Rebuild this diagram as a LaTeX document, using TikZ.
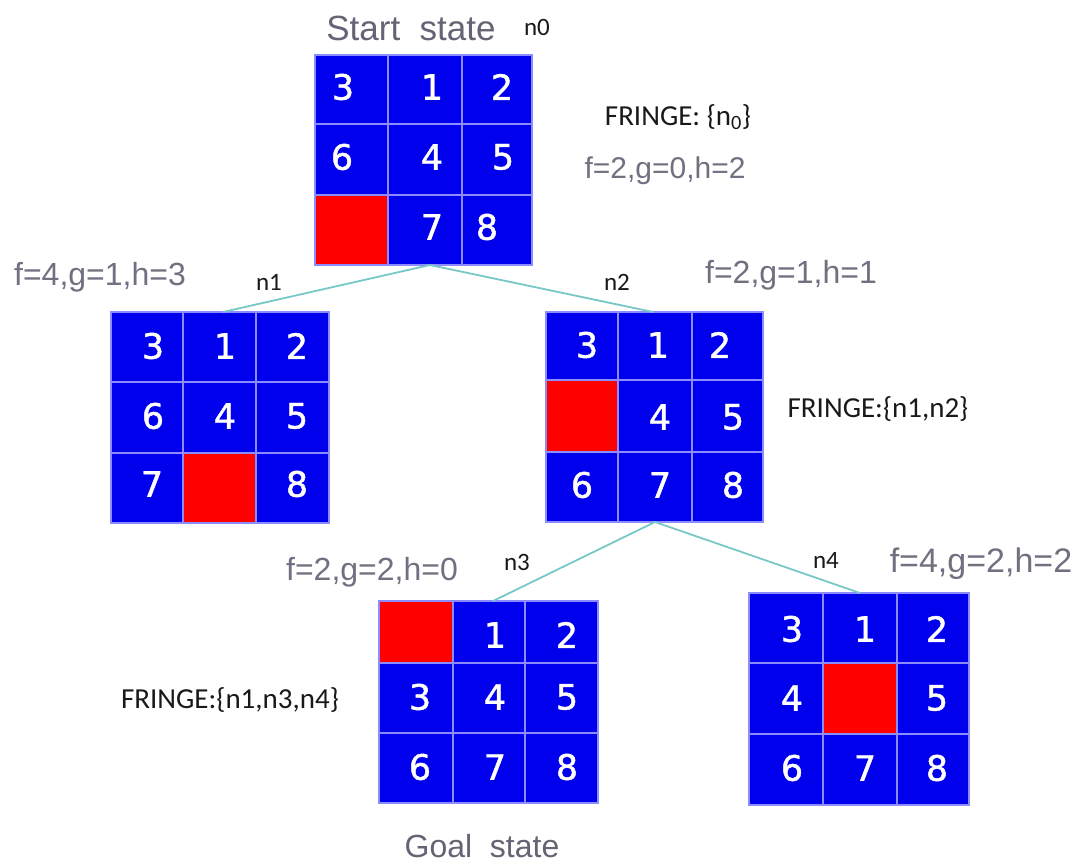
\documentclass[tikz,border=0pt]{standalone}
\usepackage{fontspec}
\setmainfont{Liberation Sans}
\newfontfamily\calfont{Carlito}
\newfontfamily\digfont[FakeBold=1.2]{DejaVu Sans}
\definecolor{puzblue}{RGB}{0,0,236}
\definecolor{puzred}{RGB}{255,0,0}
\definecolor{gridline}{RGB}{140,140,255}
\definecolor{conncol}{RGB}{120,200,200}
\definecolor{labgray}{RGB}{112,112,128}
\definecolor{titlegray}{RGB}{100,100,116}
\begin{document}
\begin{tikzpicture}[x=1pt,y=-1pt,
  puz/.style={draw=gridline, line width=1.2pt, fill=puzblue, anchor=north west, inner sep=0pt},
  redcell/.style={fill=puzred},
  gline/.style={draw=gridline, line width=1.2pt},
  digit/.style={text=white, font=\digfont\fontsize{35}{40}\selectfont, inner sep=0pt},
  glab/.style={text=labgray, font=\fontsize{32}{38}\selectfont, anchor=base, inner sep=0pt},
  title/.style={text=titlegray, font=\fontsize{35}{42}\selectfont, anchor=base, inner sep=0pt},
  nlab/.style={text=black!90, font=\calfont\fontsize{25}{30}\selectfont, anchor=base, inner sep=0pt},
  flab/.style={text=black!90, font=\calfont\fontsize{29}{34}\selectfont, anchor=base, inner sep=0pt},
  conn/.style={draw=conncol, line width=1.8pt}]
\useasboundingbox (0,0) rectangle (1079,862);
\fill[white] (0,0) rectangle (1079,862);

% ---------- n0 ----------
\node[puz, minimum width=217pt, minimum height=210pt] (g0) at (315,55) {};
\fill[redcell] (315,195) rectangle (388,265);
\draw[gline] (388,55) -- (388,265) (462,55) -- (462,265) (315,124) -- (532,124) (315,195) -- (532,195);
\draw[gline] (315,55) rectangle (532,265);
\node[digit] (d0a) at (343,87) {3};
\node[digit] (d0b) at (432,87) {1};
\node[digit] (d0c) at (502,87) {2};
\node[digit] (d0d) at (342,157) {6};
\node[digit] (d0e) at (432,157) {4};
\node[digit] (d0f) at (503,157) {5};
\node[digit] (d0g) at (432,227) {7};
\node[digit] (d0h) at (487,227) {8};

% ---------- n1 ----------
\node[puz, minimum width=218pt, minimum height=211pt] (g1) at (111,312) {};
\fill[redcell] (183,453) rectangle (256,523);
\draw[gline] (183,312) -- (183,523) (256,312) -- (256,523) (111,382) -- (329,382) (111,453) -- (329,453);
\draw[gline] (111,312) rectangle (329,523);
\node[digit] (d1a) at (153,346) {3};
\node[digit] (d1b) at (225,346) {1};
\node[digit] (d1c) at (297,346) {2};
\node[digit] (d1d) at (153,416) {6};
\node[digit] (d1e) at (225,416) {4};
\node[digit] (d1f) at (297,416) {5};
\node[digit] (d1g) at (152,484) {7};
\node[digit] (d1h) at (297,484) {8};

% ---------- n2 ----------
\node[puz, minimum width=217pt, minimum height=210pt] (g2) at (546,312) {};
\fill[redcell] (546,380) rectangle (618,452);
\draw[gline] (618,312) -- (618,522) (692,312) -- (692,522) (546,380) -- (763,380) (546,452) -- (763,452);
\draw[gline] (546,312) rectangle (763,522);
\node[digit] (d2a) at (587,345) {3};
\node[digit] (d2b) at (658,345) {1};
\node[digit] (d2c) at (720,345) {2};
\node[digit] (d2e) at (660,417) {4};
\node[digit] (d2f) at (733,417) {5};
\node[digit] (d2d) at (582,485) {6};
\node[digit] (d2g) at (660,485) {7};
\node[digit] (d2h) at (733,485) {8};

% ---------- n3 ----------
\node[puz, minimum width=219pt, minimum height=202pt] (g3) at (379,601) {};
\fill[redcell] (379,601) rectangle (453,663);
\draw[gline] (453,601) -- (453,803) (525,601) -- (525,803) (379,663) -- (598,663) (379,733) -- (598,733);
\draw[gline] (379,601) rectangle (598,803);
\node[digit] (d3b) at (495,635) {1};
\node[digit] (d3c) at (567,635) {2};
\node[digit] (d3a) at (420,697) {3};
\node[digit] (d3e) at (495,697) {4};
\node[digit] (d3f) at (567,697) {5};
\node[digit] (d3d) at (420,767) {6};
\node[digit] (d3g) at (495,767) {7};
\node[digit] (d3h) at (567,767) {8};

% ---------- n4 ----------
\node[puz, minimum width=220pt, minimum height=212pt] (g4) at (749,593) {};
\fill[redcell] (823,663) rectangle (897,734);
\draw[gline] (823,593) -- (823,805) (897,593) -- (897,805) (749,663) -- (969,663) (749,734) -- (969,734);
\draw[gline] (749,593) rectangle (969,805);
\node[digit] (d4a) at (792,629) {3};
\node[digit] (d4b) at (865,629) {1};
\node[digit] (d4c) at (937,629) {2};
\node[digit] (d4d) at (792,698) {4};
\node[digit] (d4f) at (937,698) {5};
\node[digit] (d4e) at (792,768) {6};
\node[digit] (d4g) at (865,768) {7};
\node[digit] (d4h) at (937,768) {8};

% ---------- connectors ----------
\coordinate (c0b) at (430,265);
\coordinate (c1t) at (223,312);
\coordinate (c2t) at (653,312);
\coordinate (c2b) at (655,522);
\coordinate (c3t) at (493,601);
\coordinate (c4t) at (860,593);
\draw[conn] (c0b) -- (c1t);
\draw[conn] (c0b) -- (c2t);
\draw[conn] (c2b) -- (c3t);
\draw[conn] (c2b) -- (c4t);

% ---------- labels ----------
\node[title] (tstart) at (411,40) {Start\ \ state};
\node[title, font=\fontsize{32}{38}\selectfont] (tgoal) at (482,857) {Goal\ \ state};
\node[nlab] (ln0) at (537,35) {n0};
\node[nlab] (ln1) at (269,290) {n1};
\node[nlab] (ln2) at (617,290) {n2};
\node[nlab] (ln3) at (517,570) {n3};
\node[nlab] (ln4) at (826,568) {n4};
\node[flab] (fr0) at (678,125) {FRINGE: \{n\textsubscript{0}\}};
\node[flab] (fr1) at (878,417) {FRINGE:\{n1,n2\}};
\node[flab] (fr2) at (230,708) {FRINGE:\{n1,n3,n4\}};
\node[glab, font=\fontsize{30}{36}\selectfont] (f0) at (665,178) {f=2,g=0,h=2};
\node[glab] (f1) at (100,285) {f=4,g=1,h=3};
\node[glab] (f2) at (791,283) {f=2,g=1,h=1};
\node[glab] (f3) at (372,580) {f=2,g=2,h=0};
\node[glab, font=\fontsize{34}{40}\selectfont] (f4) at (981,572) {f=4,g=2,h=2};
\end{tikzpicture}
\end{document}
